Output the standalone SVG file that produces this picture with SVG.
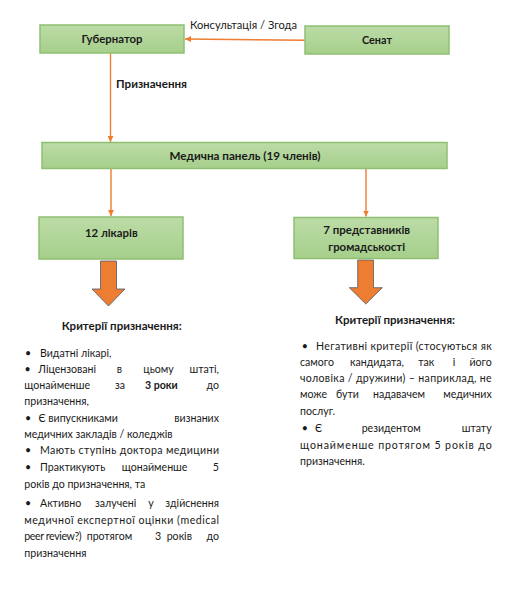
<svg xmlns="http://www.w3.org/2000/svg" width="519" height="589" viewBox="0 0 519 589">
<defs>
<linearGradient id="g" x1="0" y1="0" x2="0" y2="1">
<stop offset="0" stop-color="#BCDCA7"/>
<stop offset="1" stop-color="#A6CF8B"/>
</linearGradient>
<marker id="ah" viewBox="0 0 10 10" refX="10" refY="5" markerWidth="6" markerHeight="6" markerUnits="userSpaceOnUse" orient="auto">
<path d="M0,0 L10,5 L0,10 z" fill="#ED7D31"/>
</marker>
<style>
.box{fill:url(#g);stroke:#8FC071;stroke-width:1.5}
.lbl{font-family:Lato,"Noto Sans",sans-serif;font-size:11.5px;font-weight:bold;fill:#1a1a1a;text-anchor:middle}
.t{font-family:Lato,"Noto Sans",sans-serif;font-size:10.6px;fill:#1a1a1a}
.b{font-weight:bold}
.e{text-anchor:end}
.con{stroke:#ED7D31;stroke-width:1.4;fill:none}
.blk{fill:#ED7D31;stroke:#4E5B6B;stroke-width:0.8}
</style>
</defs>
<rect width="519" height="589" fill="#fff"/>

<g id="connectors">
<line class="con" x1="305" y1="40.3" x2="185" y2="39" marker-end="url(#ah)"/>
<text class="t" x="190" y="29" style="font-size:11.5px" textLength="107" lengthAdjust="spacingAndGlyphs">Консультація / Згода</text>
<line class="con" x1="110.5" y1="53" x2="110.5" y2="142" marker-end="url(#ah)"/>
<text class="lbl" x="116" y="88" style="text-anchor:start" textLength="71" lengthAdjust="spacingAndGlyphs">Призначення</text>
<line class="con" x1="111" y1="169" x2="111" y2="216" marker-end="url(#ah)"/>
<line class="con" x1="366" y1="169" x2="366" y2="216.5" marker-end="url(#ah)"/>
<path class="blk" d="M100.5,261 H116.5 V289 H125 L108.5,306 L92,289 H100.5 Z"/>
<path class="blk" d="M357.7,260 H373.5 V287.7 H382.3 L365.8,304 L349.3,287.7 H357.7 Z"/>
</g>

<g id="governor">
<rect class="box" x="40" y="25" width="144" height="28"/>
<text class="lbl" x="112" y="42.5" textLength="61" lengthAdjust="spacingAndGlyphs">Губернатор</text>
</g>
<g id="senate">
<rect class="box" x="305" y="26" width="144" height="28"/>
<text class="lbl" x="377" y="43.5" textLength="30" lengthAdjust="spacingAndGlyphs">Сенат</text>
</g>
<g id="panel">
<rect class="box" x="42" y="142.5" width="405" height="26"/>
<text class="lbl" x="245" y="160" textLength="151" lengthAdjust="spacingAndGlyphs">Медична панель (19 членів)</text>
</g>
<g id="doctors">
<rect class="box" x="39" y="217" width="144" height="42"/>
<text class="lbl" x="111.3" y="237" textLength="52.7" lengthAdjust="spacingAndGlyphs">12 лікарів</text>
</g>
<g id="public">
<rect class="box" x="294" y="217.5" width="144" height="41"/>
<text class="lbl" x="366.7" y="234" textLength="86.7" lengthAdjust="spacingAndGlyphs">7 представників</text>
<text class="lbl" x="366.7" y="250.7" textLength="76.7" lengthAdjust="spacingAndGlyphs">громадськості</text>
</g>

<g id="criteria-left">
<text class="lbl" x="121.7" y="330" textLength="120" lengthAdjust="spacingAndGlyphs">Критерії призначення:</text>
<text class="t" x="25" y="356.7">•</text><text class="t" x="40" y="356.7">Видатні лікарі,</text>
<text class="t" x="24.5" y="373.3">•</text><text class="t" x="38.3" y="373.3">Ліцензовані</text><text class="t" x="116.7" y="373.3">в</text><text class="t" x="143.3" y="373.3">цьому</text><text class="t e" x="219" y="373.3">штаті,</text>
<text class="t" x="24.3" y="389">щонайменше</text><text class="t" x="115" y="389">за</text><text class="t b" x="145" y="389">3 роки</text><text class="t e" x="219" y="389">до</text>
<text class="t" x="24.3" y="404.7">призначення,</text>
<text class="t" x="25" y="422">•</text><text class="t" x="38.5" y="422">Є</text><text class="t" x="48.3" y="422">випускниками</text><text class="t e" x="219" y="422">визнаних</text>
<text class="t" x="24.3" y="438">медичних закладів / коледжів</text>
<text class="t" x="25" y="454">•</text><text class="t" x="40" y="454" textLength="179" lengthAdjust="spacing">Мають ступінь доктора медицини</text>
<text class="t" x="25" y="471">•</text><text class="t" x="40" y="471">Практикують</text><text class="t" x="121.7" y="471">щонайменше</text><text class="t e" x="219" y="471">5</text>
<text class="t" x="24.3" y="488">років до призначення, та</text>
<text class="t" x="25" y="507">•</text><text class="t" x="40" y="507">Активно</text><text class="t" x="95" y="507">залучені</text><text class="t" x="148.3" y="507">у</text><text class="t e" x="219" y="507">здійснення</text>
<text class="t" x="24.3" y="524" textLength="194.7" lengthAdjust="spacing">медичної експертної оцінки (medical</text>
<text class="t" x="24.3" y="540" textLength="57.4" lengthAdjust="spacing">peer review?)</text><text class="t" x="86.7" y="540">протягом</text><text class="t" x="155" y="540">3</text><text class="t" x="166.7" y="540">років</text><text class="t e" x="219" y="540">до</text>
<text class="t" x="24.3" y="556.5">призначення</text>
</g>

<g id="criteria-right">
<text class="lbl" x="395" y="324" textLength="120" lengthAdjust="spacingAndGlyphs">Критерії призначення:</text>
<text class="t" x="301.7" y="349.5">•</text><text class="t" x="316" y="349.5" textLength="175.7" lengthAdjust="spacing">Негативні критерії (стосуються як</text>
<text class="t" x="300" y="365.7">самого</text><text class="t" x="350" y="365.7">кандидата,</text><text class="t" x="418.3" y="365.7">так</text><text class="t" x="452.7" y="365.7">і</text><text class="t e" x="491.7" y="365.7">його</text>
<text class="t" x="300" y="381.7" textLength="191.7" lengthAdjust="spacing">чоловіка / дружини) – наприклад, не</text>
<text class="t" x="300" y="398">може</text><text class="t" x="336" y="398">бути</text><text class="t" x="373" y="398">надавачем</text><text class="t e" x="491.7" y="398">медичних</text>
<text class="t" x="300" y="415">послуг.</text>
<text class="t" x="301.7" y="432.3">•</text><text class="t" x="315" y="432.3">Є</text><text class="t" x="361.7" y="432.3">резидентом</text><text class="t e" x="491.7" y="432.3">штату</text>
<text class="t" x="300" y="449" textLength="191.7" lengthAdjust="spacing">щонайменше протягом 5 років до</text>
<text class="t" x="300" y="465">призначення.</text>
</g>
</svg>
